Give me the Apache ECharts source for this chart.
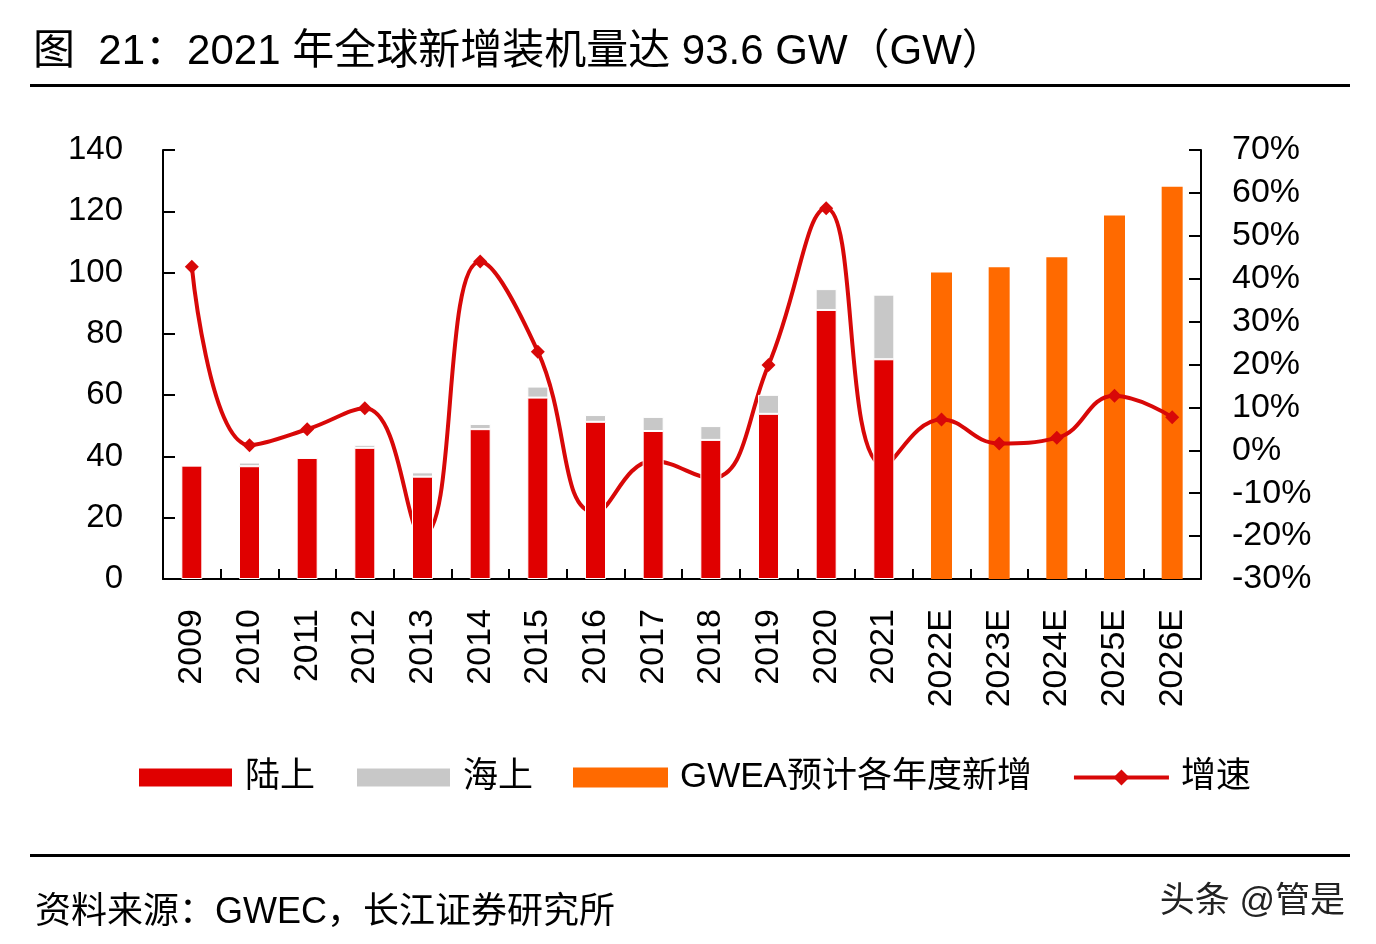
<!DOCTYPE html>
<html><head><meta charset="utf-8">
<script src="https://cdn.jsdelivr.net/npm/echarts@6/dist/echarts.min.js"></script>
<style>html,body{margin:0;padding:0;background:#fff;}#c{width:1376px;height:944px;}</style>
</head><body><div id="c"></div>
<script>
var categories = ['2009','2010','2011','2012','2013','2014','2015','2016','2017','2018','2019','2020','2021','2022E','2023E','2024E','2025E','2026E'];
var onshore  = [37, 36.8, 39.5, 42.8, 33.4, 48.9, 59.2, 51.3, 48.3, 45.4, 53.9, 87.8, 71.7, '-', '-', '-', '-', '-'];
var offshore = [0, 1.2, 0.3, 1.0, 1.4, 1.7, 3.6, 2.2, 4.6, 4.5, 6.2, 6.8, 21.1, '-', '-', '-', '-', '-'];
var forecast = ['-', '-', '-', '-', '-', '-', '-', '-', '-', '-', '-', '-', '-', 100.0, 101.7, 105.0, 118.6, 128.0];
var growth   = [42.8, 1.2, 4.9, 9.8, -20, 44.0, 23.0, -14.5, -2.5, -6.5, 19.9, 56.4, -3.5, 7.2, 1.6, 2.9, 12.7, 7.7];
var leftTicks = {min: 0, max: 140, interval: 20};
var rightTicks = {min: -30, max: 70, interval: 10};

var FONT = '"Liberation Sans","Noto Sans CJK SC",sans-serif';
var chart = echarts.init(document.getElementById('c'));
chart.setOption({
  backgroundColor: '#fff',
  animation: false,
  textStyle: {fontFamily: FONT},
  title: [{
    text: '图  21：2021 年全球新增装机量达 93.6 GW（GW）',
    left: 28, top: 26,
    textStyle: {fontSize: 42, fontWeight: 'normal', color: '#000', fontFamily: FONT}
  }, {
    text: '资料来源：GWEC，长江证券研究所',
    left: 30, top: 890,
    textStyle: {fontSize: 36, fontWeight: 'normal', color: '#000', fontFamily: FONT}
  }, {
    text: '头条 @管是',
    right: 26, top: 880,
    textStyle: {fontSize: 35, fontWeight: 'normal', color: '#222', fontFamily: FONT}
  }],
  graphic: [
    {type: 'rect', shape: {x: 30, y: 84, width: 1320, height: 3}, style: {fill: '#000'}},
    {type: 'rect', shape: {x: 30, y: 854, width: 1320, height: 3}, style: {fill: '#000'}}
  ],
  legend: {
    left: 137, top: 760, padding: 0,
    itemWidth: 95, itemHeight: 20, itemGap: 40,
    textStyle: {fontSize: 35, color: '#000', fontFamily: FONT, padding: [0,0,0,7]},
    data: [
      {name: '陆上', icon: 'rect'},
      {name: '海上', icon: 'rect'},
      {name: 'GWEA预计各年度新增', icon: 'rect'},
      {name: '增速', lineStyle: {width: 4}}
    ]
  },
  grid: {left: 163, right: 175, top: 150, bottom: 365, containLabel: false},
  xAxis: {
    type: 'category', data: categories,
    axisLine: {lineStyle: {color: '#000', width: 2}},
    axisTick: {show: true, inside: true, length: 10, lineStyle: {color: '#000', width: 2}},
    axisLabel: {rotate: 90, fontSize: 34, color: '#000', margin: 30, fontFamily: FONT}
  },
  yAxis: [{
    type: 'value', min: leftTicks.min, max: leftTicks.max, interval: leftTicks.interval,
    splitLine: {show: false},
    axisLine: {show: true, lineStyle: {color: '#000', width: 2}},
    axisTick: {show: true, inside: true, length: 12, lineStyle: {color: '#000', width: 2}},
    axisLabel: {fontSize: 33, color: '#000', margin: 40, fontFamily: FONT}
  }, {
    type: 'value', min: rightTicks.min, max: rightTicks.max, interval: rightTicks.interval,
    position: 'right',
    splitLine: {show: false},
    axisLine: {show: true, lineStyle: {color: '#000', width: 2}},
    axisTick: {show: true, inside: true, length: 12, lineStyle: {color: '#000', width: 2}},
    axisLabel: {fontSize: 34, color: '#000', margin: 31, formatter: '{value}%', fontFamily: FONT}
  }],
  series: [{
    name: '陆上', type: 'bar', stack: 'a', data: onshore, barWidth: 21, z: 4,
    itemStyle: {color: '#e00000', borderColor: '#fff', borderWidth: 1}
  }, {
    name: '海上', type: 'bar', stack: 'a', data: offshore, barWidth: 21, z: 4,
    itemStyle: {color: '#c8c8c8', borderColor: '#fff', borderWidth: 1}
  }, {
    name: 'GWEA预计各年度新增', type: 'bar', stack: 'a', data: forecast, barWidth: 21, z: 1,
    itemStyle: {color: '#ff6a00'}
  }, {
    name: '增速', type: 'line', yAxisIndex: 1, data: growth, smooth: 0.45, z: 3,
    symbol: 'diamond', symbolSize: 14,
    lineStyle: {color: '#d80808', width: 4},
    itemStyle: {color: '#d80808'}
  }]
});
</script></body></html>
